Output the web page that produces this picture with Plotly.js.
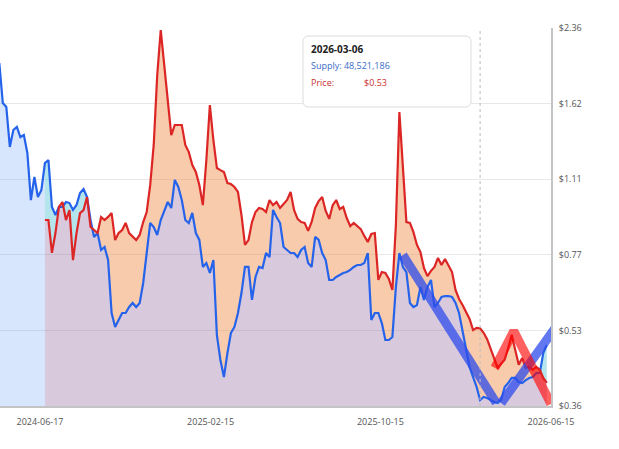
<!DOCTYPE html>
<html><head><meta charset="utf-8">
<script src="https://cdn.plot.ly/plotly-3.0.1.min.js"></script>
<style>html,body{margin:0;padding:0;background:#fff}#chart{width:619px;height:449px}</style>
</head><body><div id="chart"></div>
<script>
// ---- data ----
const startDate = '2024-04-20';
const stepDays = 5;
// circulating supply, millions (one value every 5 days from startDate)
const supplyM = [
70.99,68.32,68.05,65.39,66.52,66.72,66.05,66.19,64.99,61.85,
63.39,62.05,62.52,64.32,64.52,61.39,60.85,61.39,61.39,61.72,
61.65,61.19,61.52,62.32,62.59,62.05,60.52,59.39,59.65,58.52,
58.72,57.85,54.32,53.39,53.85,54.32,54.32,54.72,54.99,54.72,
54.99,56.32,58.32,60.32,60.05,59.52,60.52,61.19,61.72,61.32,
63.19,62.72,61.85,60.52,60.32,60.99,59.65,59.19,57.39,57.65,
56.99,57.85,52.85,51.19,50.05,51.65,52.99,53.39,54.32,55.65,
57.39,57.39,55.19,56.72,57.39,57.32,58.32,58.05,61.19,60.72,
60.32,58.72,58.52,58.32,58.32,58.05,58.52,58.72,57.65,57.39,
59.39,59.19,58.32,57.85,56.52,56.52,56.72,56.85,56.99,57.05,
57.19,57.39,57.52,57.52,57.65,58.32,53.85,54.32,54.32,53.65,
52.52,52.52,52.72,56.05,58.32,57.39,57.05,54.99,54.72,54.85,
56.05,55.19,56.05,56.52,54.72,54.99,55.39,55.45,55.45,55.39,
54.99,54.32,53.19,51.85,50.72,50.05,49.39,48.521186,48.72,48.65,
48.52,48.39,48.32,48.52,49.39,49.65,49.99,49.99,49.72,49.65,
49.85,49.99,50.05,50.32,50.32,51.65,52.19
];
const priceStartIndex = 13;
// price in USD, starting at supply index priceStartIndex
const price = [
0.908,0.908,0.771,0.851,0.969,0.993,0.908,0.954,0.744,0.851,
0.940,0.954,1.018,0.877,0.864,0.851,0.922,0.908,0.922,0.940,
0.822,0.851,0.864,0.895,0.851,0.834,0.822,0.843,0.899,0.945,
1.081,1.319,1.868,2.336,1.963,1.691,1.386,1.457,1.457,1.457,
1.319,1.273,1.194,1.153,1.081,0.978,1.224,1.609,1.352,1.176,
1.164,1.153,1.091,1.086,1.070,1.044,0.931,0.802,0.822,0.899,
0.945,0.964,0.959,0.945,1.003,0.978,0.993,0.964,0.983,1.003,
1.044,0.954,0.913,0.899,0.895,0.860,0.899,0.964,0.998,1.018,
0.950,0.913,0.978,1.003,0.959,0.969,0.917,0.881,0.895,0.881,
0.868,0.839,0.814,0.847,0.851,0.674,0.701,0.698,0.677,0.641,
0.886,1.554,1.194,0.899,0.895,0.855,0.802,0.774,0.715,0.687,
0.705,0.719,0.752,0.726,0.748,0.726,0.701,0.641,0.613,0.595,
0.575,0.555,0.525,0.531,0.530,0.518,0.502,0.480,0.457,0.435,
0.444,0.453,0.480,0.513,0.476,0.442,0.457,0.435,0.437,0.431,
0.437,0.431,0.414,0.404
];
const xTickLabels = ['2024-06-17','2025-02-15','2025-10-15','2026-06-15'];
const yTickLabels = ['$0.36','$0.53','$0.77','$1.11','$1.62','$2.36'];
const hoverDate = '2026-03-06';
// drawn trend strokes
const blueTrendADates = ['2025-11-16','2026-03-29'];
const blueTrendAPrices = [0.763,0.3654];
const blueTrendBDates = ['2026-04-05','2026-06-29'];
const blueTrendBPrices = [0.365,0.5522];
const redTrendDates = ['2026-03-27','2026-04-23','2026-06-15'];
const redTrendPrices = [0.435,0.5228,0.3636];

// ---- derived ----
const DAY = 86400000;
const t0 = Date.parse(startDate + 'T00:00:00Z');
const dates = supplyM.map((_, i) => new Date(t0 + i*stepDays*DAY).toISOString().slice(0,10));
const supply = supplyM.map(v => v*1e6);
const pDates = dates.slice(priceStartIndex);
const pSupply = supply.slice(priceStartIndex);

const priceMin = 0.36, priceMax = 2.36;
const supplyMin = 48.12e6, supplyMax = 73.32e6;
const normP = v => Math.log(v/priceMin)/Math.log(priceMax/priceMin);
const normS = v => (v - supplyMin)/(supplyMax - supplyMin);
const pn = price.map(normP);
const sn = pSupply.map(normS);
const lo = pn.map((v,i)=>Math.min(v, sn[i]));
const snLeft = supply.slice(0, priceStartIndex+1).map(normS);
const yTickVals = yTickLabels.map((_, k) => priceMin*Math.pow(priceMax/priceMin, k/(yTickLabels.length-1)));

const noLine = {width:0, color:'rgba(0,0,0,0)'};
const traces = [
  {x:dates.slice(0, priceStartIndex+1), y:snLeft, yaxis:'y', mode:'lines', line:noLine, fill:'tozeroy', fillcolor:'rgba(59,130,246,0.2)', hoverinfo:'skip'},
  {x:pDates, y:lo, yaxis:'y', mode:'lines', line:noLine, fill:'tozeroy', fillcolor:'rgba(146,101,158,0.35)', hoverinfo:'skip'},
  {x:pDates, y:pn, yaxis:'y', mode:'lines', line:noLine, fill:'tonexty', fillcolor:'rgba(240,140,70,0.45)', hoverinfo:'skip'},
  {x:pDates, y:lo, yaxis:'y', mode:'lines', line:noLine, hoverinfo:'skip'},
  {x:pDates, y:sn, yaxis:'y', mode:'lines', line:noLine, fill:'tonexty', fillcolor:'rgba(40,180,200,0.35)', hoverinfo:'skip'},
  {x:dates, y:supply, yaxis:'y2', mode:'lines', line:{color:'#2563eb', width:2.2}, name:'Supply'},
  {x:pDates, y:price, yaxis:'y3', mode:'lines', line:{color:'#dc2626', width:2.2}, name:'Price'},
  {x:blueTrendADates, y:blueTrendAPrices, yaxis:'y3', mode:'lines', line:{color:'rgba(45,75,235,0.75)', width:9}, hoverinfo:'skip'},
  {x:blueTrendBDates, y:blueTrendBPrices, yaxis:'y3', mode:'lines', line:{color:'rgba(45,75,235,0.75)', width:9}, hoverinfo:'skip'},
  {x:redTrendDates, y:redTrendPrices, yaxis:'y3', mode:'lines', line:{color:'rgba(255,0,0,0.62)', width:9}, hoverinfo:'skip'}
];

// tooltip box (paper coordinates)
const bx0 = 0.5499, bx1 = 0.8548, by0 = 0.791, by1 = 0.9788, rx = 0.0109, ry = 0.0159;
const boxPath = `M ${bx0+rx},${by1} L ${bx1-rx},${by1} Q ${bx1},${by1} ${bx1},${by1-ry} L ${bx1},${by0+ry} Q ${bx1},${by0} ${bx1-rx},${by0} L ${bx0+rx},${by0} Q ${bx0},${by0} ${bx0},${by0+ry} L ${bx0},${by1-ry} Q ${bx0},${by1} ${bx0+rx},${by1} Z`;

const hi = dates.indexOf(hoverDate);
const hoverSupply = 'Supply: ' + Math.round(supply[hi]).toLocaleString('en-US');
const hoverPrice = '$' + price[hi - priceStartIndex].toFixed(2);

const tipFont = {family:'"Open Sans", sans-serif', size:9};
const layout = {
  width:619, height:449,
  margin:{l:0, r:68, t:28, b:43, pad:0},
  paper_bgcolor:'#fff', plot_bgcolor:'#fff',
  showlegend:false,
  hovermode:false,
  font:{family:'"Open Sans", sans-serif', size:9, color:'#555'},
  xaxis:{type:'date', range:['2024-04-21','2026-06-15'], tickvals:xTickLabels, ticktext:xTickLabels,
         showgrid:false, showline:true, linecolor:'#c4c4c4', linewidth:2, ticks:'outside', ticklen:6,
         tickcolor:'rgba(0,0,0,0)', zeroline:false, fixedrange:true},
  yaxis:{range:[0,1], visible:false, fixedrange:true},
  yaxis2:{overlaying:'y', range:[supplyMin, supplyMax], visible:false, fixedrange:true},
  yaxis3:{overlaying:'y', side:'right', type:'log',
          range:[Math.log10(priceMin)-0.0001, Math.log10(priceMax)+0.0001],
          tickvals:yTickVals, ticktext:yTickLabels, showgrid:true, gridcolor:'#e8e8e8', gridwidth:1,
          showline:true, linecolor:'#c4c4c4', linewidth:2, ticks:'outside', ticklen:4,
          tickcolor:'rgba(0,0,0,0)', zeroline:false, fixedrange:true},
  shapes:[
    {type:'line', xref:'x', yref:'paper', x0:hoverDate, x1:hoverDate, y0:0, y1:1,
     line:{color:'#bdbdbd', width:1, dash:'3px,3px'}, layer:'above'},
    {type:'path', xref:'paper', yref:'paper', path:boxPath, fillcolor:'#ffffff',
     line:{color:'#dcdcdc', width:1}, layer:'above'}
  ],
  annotations:[
    {xref:'paper', yref:'paper', x:0.561, y:0.9444, xanchor:'left', yanchor:'middle', showarrow:false,
     text:'<b>' + hoverDate + '</b>', font:{family:'"Open Sans", sans-serif', size:10, color:'#222'}},
    {xref:'paper', yref:'paper', x:0.561, y:0.8995, xanchor:'left', yanchor:'middle', showarrow:false,
     text:hoverSupply, font:Object.assign({color:'#3a6cc8'}, tipFont)},
    {xref:'paper', yref:'paper', x:0.561, y:0.8545, xanchor:'left', yanchor:'middle', showarrow:false,
     text:'Price:', font:Object.assign({color:'#c93030'}, tipFont)},
    {xref:'paper', yref:'paper', x:0.7054, y:0.8545, xanchor:'right', yanchor:'middle', showarrow:false,
     text:hoverPrice, font:Object.assign({color:'#c93030'}, tipFont)}
  ]
};

Plotly.newPlot('chart', traces, layout, {displayModeBar:false, staticPlot:true});
</script>
</body></html>
